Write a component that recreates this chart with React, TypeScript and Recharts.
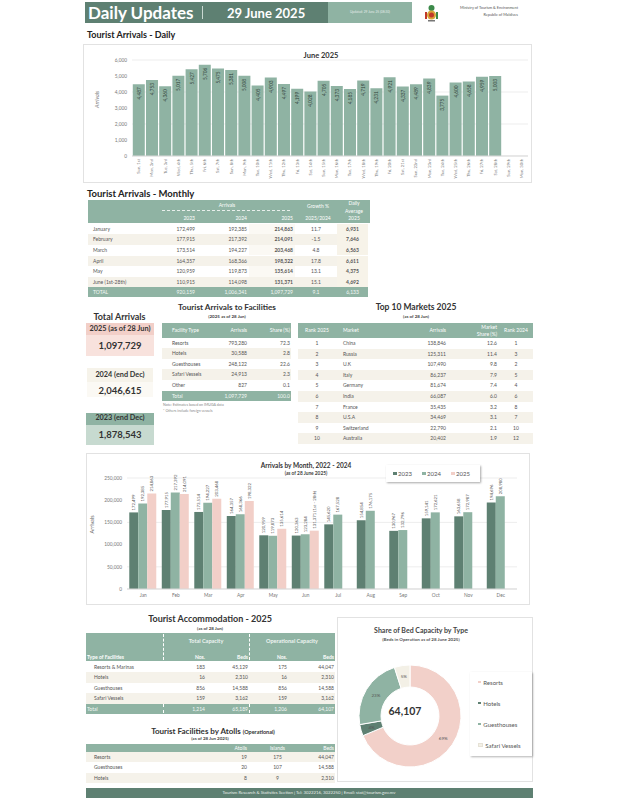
import React from 'react';
import { BarChart, Bar, XAxis, YAxis, CartesianGrid, LabelList, PieChart, Pie, Cell } from 'recharts';

const GREEN_D = '#5e8072';
const GREEN_M = '#8fb3a3';
const PINK = '#f2cfc8';
const BEIGE = '#f5f2ea';
const FONT = 'Lato, "Open Sans", sans-serif';

// daily arrivals, June 2025
const DAYS = [
  'Sun, 1st', 'Mon, 2nd', 'Tue, 3rd', 'Wed, 4th', 'Thu, 5th', 'Fri, 6th', 'Sat, 7th', 'Sun, 8th',
  'Mon, 9th', 'Tue, 10th', 'Wed, 11th', 'Thu, 12th', 'Fri, 13th', 'Sat, 14th', 'Sun, 15th',
  'Mon, 16th', 'Tue, 17th', 'Wed, 18th', 'Thu, 19th', 'Fri, 20th', 'Sat, 21st', 'Sun, 22nd',
  'Mon, 23rd', 'Tue, 24th', 'Wed, 25th', 'Thu, 26th', 'Fri, 27th', 'Sat, 28th', 'Sun, 29th', 'Mon, 30th',
];
const DAILY = [
  4487, 4753, 4360, 5017, 5427, 5706, 5475, 5381, 5008, 4405, 4903, 4497, 4199, 4028, 4705,
  4373, 4185, 4719, 4231, 4921, 4337, 4489, 4839, 3775, 4600, 4658, 4959, 5003, null, null,
];
const DAILY_TICKS = [0, 1000, 2000, 3000, 4000, 5000, 6000];

// arrivals by month
const MONTHS = ['Jan', 'Feb', 'Mar', 'Apr', 'May', 'Jun', 'Jul', 'Aug', 'Sep', 'Oct', 'Nov', 'Dec'];
const A2023 = [172499, 177915, 173514, 164357, 120959, 120363, 145620, 154854, 130967, 159141, 163658, 194696];
const A2024 = [192385, 217392, 194227, 168366, 119873, 123284, 167528, 176175, 132796, 172621, 172987, 208980];
const A2025 = [214863, 214091, 203468, 198322, 135614, 131371, null, null, null, null, null, null];
const MONTH_TICKS = [0, 50000, 100000, 150000, 200000, 250000];

// monthly table
const M_ROWS = ['January', 'February', 'March', 'April', 'May', 'June (1st-28th)'];
const M_2023 = ['172,499', '177,915', '173,514', '164,357', '120,959', '110,915'];
const M_2024 = ['192,385', '217,392', '194,227', '168,366', '119,873', '114,098'];
const M_2025 = ['214,863', '214,091', '203,468', '198,322', '135,614', '131,371'];
const M_GROWTH = ['11.7', '-1.5', '4.8', '17.8', '13.1', '15.1'];
const M_AVG = ['6,931', '7,646', '6,563', '6,611', '4,375', '4,692'];
const M_TOTAL = ['TOTAL', '920,159', '1,006,341', '1,097,729', '9.1', '6,133'];

// facilities
const FAC_TYPES = ['Resorts', 'Hotels', 'Guesthouses', 'Safari Vessels', 'Other'];
const FAC_ARR = ['793,280', '30,588', '248,122', '24,913', '827'];
const FAC_SHARE = ['72.3', '2.8', '22.6', '2.3', '0.1'];

// top 10 markets
const MKT_NAMES = ['China', 'Russia', 'U.K', 'Italy', 'Germany', 'India', 'France', 'U.S.A', 'Switzerland', 'Australia'];
const MKT_ARR = ['138,846', '125,311', '107,490', '86,237', '81,674', '66,087', '35,435', '34,469', '22,790', '20,402'];
const MKT_SHARE = ['12.6', '11.4', '9.8', '7.9', '7.4', '6.0', '3.2', '3.1', '2.1', '1.9'];
const MKT_RANK24 = ['1', '3', '2', '5', '4', '6', '8', '7', '10', '12'];

// accommodation
const ACC_TYPES = ['Resorts & Marinas', 'Hotels', 'Guesthouses', 'Safari Vessels'];
const ACC_NOS = ['183', '16', '856', '159'];
const ACC_BEDS = ['45,129', '2,310', '14,588', '3,162'];
const ACC_OPNOS = ['175', '16', '856', '159'];
const ACC_OPBEDS = ['44,047', '2,310', '14,588', '3,162'];

const ATOLL_TYPES = ['Resorts', 'Guesthouses', 'Hotels'];
const ATOLL_ATOLLS = ['19', '20', '8'];
const ATOLL_ISLANDS = ['175', '107', '9'];
const ATOLL_BEDS = ['44,047', '14,588', '2,310'];

// bed share pie
const BED_TYPES = ['Resorts', 'Hotels', 'Guesthouses', 'Safari Vessels'];
const BED_VALUES = [44047, 2310, 14588, 3162];
const BED_COLORS = ['#f2d0c9', GREEN_D, GREEN_M, '#f3f0e6'];

const dailyData = DAYS.map((d, i) => ({ day: d, value: DAILY[i] }));
const monthData = MONTHS.map((m, i) => ({ month: m, y2023: A2023[i], y2024: A2024[i], y2025: A2025[i] }));
const bedData = BED_TYPES.map((t, i) => ({ name: t, value: BED_VALUES[i] }));

const fmt = (v: number) => v.toLocaleString('en-US');

function T({ x, y, w = 200, align = 'left', size = 5, bold = false, color = '#444', children, style }: any) {
  const left = align === 'left' ? x : align === 'right' ? x - w : x - w / 2;
  return (
    <div
      style={{
        position: 'absolute', left, top: y - size, width: w, height: size * 2, lineHeight: size * 2 + 'px',
        textAlign: align, fontSize: size, fontWeight: bold ? 700 : 400, color, whiteSpace: 'nowrap', ...style,
      }}
    >
      {children}
    </div>
  );
}

function Row({ top, left, h, cols, cells, bg, color = '#555', size = 5, bold = false }: any) {
  return (
    <div style={{ position: 'absolute', top, left, height: h, display: 'flex', background: bg }}>
      {cols.map((c: any, i: number) => (
        <div
          key={i}
          style={{
            width: c.w, height: h, lineHeight: h + 'px', textAlign: c.a, paddingLeft: c.pl || 0,
            paddingRight: c.pr || 0, boxSizing: 'border-box', fontSize: size, color,
            fontWeight: bold || c.b ? 700 : 400, background: c.bg, whiteSpace: 'nowrap',
          }}
        >
          {cells[i]}
        </div>
      ))}
    </div>
  );
}

function Box({ x, y, w, h, bg, border, shadow }: any) {
  return (
    <div
      style={{
        position: 'absolute', left: x, top: y, width: w, height: h, background: bg,
        border, boxSizing: 'border-box', boxShadow: shadow,
      }}
    />
  );
}

const DayTick = ({ x, y, payload }: any) => (
  <text transform={`translate(${x},${y}) rotate(-90)`} textAnchor="end" dominantBaseline="central" fontSize={4.2} fill="#777">
    {payload.value}
  </text>
);

const InsideLabel = ({ x, y, width, value }: any) => {
  if (value == null) return null;
  return (
    <text transform={`translate(${x + width / 2},${y + 3}) rotate(-90)`} textAnchor="end" dominantBaseline="central" fontSize={4.8} fill="#2f3f38">
      {fmt(value)}
    </text>
  );
};

const TopLabel = (suffix?: string) => ({ x, y, width, value, index }: any) => {
  if (value == null) return null;
  const t = fmt(value) + (suffix && index === 5 ? suffix : '');
  return (
    <text transform={`translate(${x + width / 2},${y - 2}) rotate(-90)`} textAnchor="start" dominantBaseline="central" fontSize={4.3} fill="#555">
      {t}
    </text>
  );
};

const RAD = Math.PI / 180;
const pieLabel = ({ cx, cy, midAngle, innerRadius, outerRadius, percent }: any) => {
  const r = (innerRadius + outerRadius) / 2;
  const x = cx + r * Math.cos(-midAngle * RAD);
  const y = cy + r * Math.sin(-midAngle * RAD);
  return (
    <text x={x} y={y} fontSize={4.5} fill="#555" textAnchor="middle" dominantBaseline="central">
      {Math.round(percent * 100)}%
    </text>
  );
};

const mCols = [
  { w: 77, a: 'left', pl: 5 },
  { w: 32, a: 'right', pr: 2 },
  { w: 52, a: 'right', pr: 2 },
  { w: 46, a: 'right', pr: 2, b: true },
  { w: 42, a: 'center' },
  { w: 31, a: 'center', b: true },
];
const facCols = [
  { w: 53, a: 'left', pl: 10 },
  { w: 34, a: 'right', pr: 2 },
  { w: 42, a: 'right', pr: 1 },
];
const mktCols = [
  { w: 38, a: 'center' },
  { w: 64, a: 'left', pl: 7 },
  { w: 48, a: 'right', pr: 2 },
  { w: 51, a: 'right', pr: 2 },
  { w: 34, a: 'center' },
];
const accCols = [
  { w: 77, a: 'left', pl: 8 },
  { w: 44, a: 'right', pr: 2 },
  { w: 42, a: 'right', pr: 1 },
  { w: 40, a: 'right', pr: 2 },
  { w: 46, a: 'right', pr: 1 },
];
const atCols = [
  { w: 119, a: 'left', pl: 8 },
  { w: 44, a: 'right', pr: 2 },
  { w: 57, a: 'center' },
  { w: 29, a: 'right', pr: 1 },
];

export default function App() {
  return (
    <div style={{ position: 'absolute', left: 0, top: 0, width: 618, height: 800, background: '#fff', fontFamily: FONT, overflow: 'hidden' }}>
      {/* header */}
      <Box x={85} y={2} w={243} h={21} bg={GREEN_D} />
      <Box x={328} y={2} w={84} h={21} bg={GREEN_M} />
      <Box x={202} y={6} w={0.8} h={13} bg="#c9d8d1" />
      <T x={88} y={12.5} size={17} bold color="#fff">Daily Updates</T>
      <T x={227} y={12.5} size={13} bold color="#fff">29 June 2025</T>
      <T x={370} y={12.5} w={80} align="center" size={3.2} color="#e4ece8">Updated: 29 June 25 (08:30)</T>
      <svg style={{ position: 'absolute', left: 423, top: 3 }} width={17} height={20}>
        <circle cx={8.5} cy={5} r={3} fill="#3c8a4a" />
        <circle cx={8.5} cy={12} r={4.5} fill="#d7a63a" />
        <circle cx={8.5} cy={12} r={2.5} fill="#c0392b" />
        <rect x={2} y={9} width={2} height={7} fill="#c0392b" />
        <rect x={13} y={9} width={2} height={7} fill="#3c8a4a" />
        <rect x={5} y={17} width={7} height={1.5} fill="#777" />
      </svg>
      <T x={518} y={8} w={90} align="right" size={3.8} color="#555">Ministry of Tourism &amp; Environment</T>
      <T x={518} y={15} w={90} align="right" size={3.8} color="#555">Republic of Maldives</T>

      <T x={87} y={35} size={9} bold color="#222">Tourist Arrivals - Daily</T>

      {/* daily chart */}
      <Box x={83} y={44} w={449} h={139} border="1px solid #e2e2e2" />
      <T x={321} y={55} w={80} align="center" size={7.5} bold color="#333">June 2025</T>
      <div style={{ position: 'absolute', left: 83, top: 44 }}>
        <BarChart width={449} height={139} data={dailyData} margin={{ top: 16, right: 4, left: 0, bottom: 0 }} barCategoryGap="6%">
          <CartesianGrid vertical={false} stroke="#e8e8e8" strokeWidth={0.8} />
          <XAxis dataKey="day" interval={0} height={27} tick={<DayTick />} tickSize={0} tickMargin={3} tickLine={false} axisLine={{ stroke: '#d9d9d9' }} />
          <YAxis
            width={49}
            domain={[0, 6000]}
            ticks={DAILY_TICKS}
            tickFormatter={fmt}
            tick={{ fontSize: 4.8, fill: '#777' }}
            tickSize={0}
            tickMargin={5}
            axisLine={false}
            label={{ value: 'Arrivals', angle: -90, position: 'insideLeft', offset: 14, style: { fontSize: 5.5, fill: '#777', fontStyle: 'italic' } }}
          />
          <Bar dataKey="value" fill={GREEN_M} isAnimationActive={false}>
            <LabelList dataKey="value" content={<InsideLabel />} />
          </Bar>
        </BarChart>
      </div>

      {/* monthly table */}
      <T x={87} y={193} size={9.5} bold color="#222">Tourist Arrivals - Monthly</T>
      <Box x={88} y={200} w={282} h={22.5} bg={GREEN_M} />
      <T x={227} y={205} w={60} align="center" size={5} color="#fff">Arrivals</T>
      <div style={{ position: 'absolute', left: 162, top: 210, width: 128, borderTop: '0.8px dashed #e8efeb' }} />
      <T x={195} y={218} w={30} align="right" size={5} color="#fff">2023</T>
      <T x={247} y={218} w={30} align="right" size={5} color="#fff">2024</T>
      <T x={293} y={218} w={30} align="right" size={5} color="#fff">2025</T>
      <T x={318} y={206} w={40} align="center" size={5} color="#fff">Growth %</T>
      <T x={318} y={218} w={40} align="center" size={5} color="#fff">2025/2024</T>
      <T x={354} y={203} w={30} align="center" size={5} color="#fff">Daily</T>
      <T x={354} y={210.5} w={30} align="center" size={5} color="#fff">Average</T>
      <T x={354} y={218} w={30} align="center" size={5} color="#fff">2025</T>
      {M_ROWS.map((m, i) => (
        <Row
          key={m}
          top={223.7 + i * 10.6}
          left={88}
          h={10.6}
          bg={i % 2 === 1 ? BEIGE : '#fff'}
          cols={mCols.map((c, j) => (j === 5 ? { ...c, bg: '#f7f3e9' } : j === 3 && i % 2 === 0 ? { ...c, bg: '#fbf9f4' } : c))}
          cells={[m, M_2023[i], M_2024[i], M_2025[i], M_GROWTH[i], M_AVG[i]]}
          color="#555"
        />
      ))}
      <Row top={287.3} left={88} h={10} bg={GREEN_M} cols={mCols.map((c) => ({ ...c, b: false }))} cells={M_TOTAL} color="#f4f8f6" />

      {/* total arrivals */}
      <T x={119.5} y={317} w={80} align="center" size={9} bold color="#333">Total Arrivals</T>
      <Box x={86} y={323} w={68} h={11.5} bg={PINK} />
      <Box x={86} y={334.5} w={68} h={21} bg="#f8e2dd" />
      <T x={120} y={329} w={80} align="center" size={7.3} bold color="#333">2025 (as of 28 Jun)</T>
      <T x={120} y={345} w={80} align="center" size={9.5} bold color="#333">1,097,729</T>
      <Box x={87} y={368} w={66} h={13.5} bg="#f6f3ea" />
      <Box x={87} y={381.5} w={66} h={15} bg="#fbf9f4" />
      <T x={120} y={375} w={80} align="center" size={7.3} bold color="#333">2024 (end Dec)</T>
      <T x={120} y={390} w={80} align="center" size={9.5} bold color="#333">2,046,615</T>
      <Box x={86} y={413} w={68} h={11.5} bg={GREEN_M} />
      <Box x={86} y={424.5} w={68} h={20} bg="#c7dad0" />
      <T x={120} y={418.5} w={80} align="center" size={7.3} bold color="#333">2023 (end Dec)</T>
      <T x={120} y={434.5} w={80} align="center" size={9.5} bold color="#333">1,878,543</T>

      {/* facilities */}
      <T x={227} y={307.5} w={130} align="center" size={8.2} bold color="#333">Tourist Arrivals to Facilities</T>
      <T x={227} y={316} w={80} align="center" size={4.5} bold color="#444">(2025 as of 28 Jun)</T>
      <Row top={323} left={162} h={14.5} bg={GREEN_M} cols={facCols} cells={['Facility Type', 'Arrivals', 'Share (%)']} color="#fff" />
      {FAC_TYPES.map((t, i) => (
        <Row key={t} top={337.5 + i * 10.6} left={162} h={10.6} bg={i % 2 === 1 ? BEIGE : '#fff'} cols={facCols} cells={[t, FAC_ARR[i], FAC_SHARE[i]]} />
      ))}
      <Row top={390.5} left={162} h={10} bg={GREEN_M} cols={facCols} cells={['Total', '1,097,729', '100.0']} color="#f4f8f6" />
      <T x={163} y={404.5} size={3.6} color="#888">Note: Estimates based on IMUGA data</T>
      <T x={163} y={411} size={3.6} color="#888">* Others include foreign vessels</T>

      {/* top 10 */}
      <T x={416} y={307.5} w={130} align="center" size={8.5} bold color="#333">Top 10 Markets 2025</T>
      <T x={416} y={316} w={80} align="center" size={4.5} bold color="#444">(as of 28 Jun)</T>
      <Row top={323} left={298} h={15} bg={GREEN_M} cols={mktCols} cells={['Rank 2025', 'Market', 'Arrivals', '', 'Rank 2024']} color="#fff" />
      <T x={497} y={327} w={40} align="right" size={5} color="#fff">Market</T>
      <T x={497} y={334} w={40} align="right" size={5} color="#fff">Share (%)</T>
      {MKT_NAMES.map((m, i) => (
        <Row
          key={m}
          top={338 + i * 10.6}
          left={298}
          h={10.6}
          bg={i % 2 === 1 ? BEIGE : '#fff'}
          cols={mktCols}
          cells={[String(i + 1), m, MKT_ARR[i], MKT_SHARE[i], MKT_RANK24[i]]}
        />
      ))}

      {/* arrivals by month chart */}
      <Box x={86} y={453} w={444} h={152} border="1px solid #e2e2e2" />
      <T x={306} y={465} w={150} align="center" size={6.5} bold color="#333">Arrivals by Month, 2022 - 2024</T>
      <T x={306} y={474} w={100} align="center" size={4.8} bold color="#444">(as of 28 June 2025)</T>
      <div style={{ position: 'absolute', left: 86, top: 453 }}>
        <BarChart width={444} height={152} data={monthData} margin={{ top: 25, right: 13, left: 0, bottom: 0 }} barCategoryGap="7%" barGap={0}>
          <CartesianGrid vertical={false} stroke="#e8e8e8" strokeWidth={0.8} />
          <XAxis dataKey="month" interval={0} height={16} tick={{ fontSize: 4.8, fill: '#777' }} tickSize={0} tickMargin={5} tickLine={false} axisLine={{ stroke: '#d9d9d9' }} />
          <YAxis
            width={41}
            domain={[0, 250000]}
            ticks={MONTH_TICKS}
            tickFormatter={fmt}
            tick={{ fontSize: 4.8, fill: '#777' }}
            tickSize={0}
            tickMargin={5}
            axisLine={false}
            label={{ value: 'Arrivals', angle: -90, position: 'insideLeft', offset: 6, style: { fontSize: 5.5, fill: '#555' } }}
          />
          <Bar dataKey="y2023" fill={GREEN_D} isAnimationActive={false}>
            <LabelList dataKey="y2023" content={TopLabel()} />
          </Bar>
          <Bar dataKey="y2024" fill={GREEN_M} isAnimationActive={false}>
            <LabelList dataKey="y2024" content={TopLabel()} />
          </Bar>
          <Bar dataKey="y2025" fill={PINK} isAnimationActive={false}>
            <LabelList dataKey="y2025" content={TopLabel(' (1st - 28th)')} />
          </Bar>
        </BarChart>
      </div>
      <Box x={386} y={465} w={94} h={17} bg="#fff" shadow="1px 1px 2px rgba(0,0,0,0.35)" />
      {['2023', '2024', '2025'].map((y, i) => (
        <div key={y} style={{ position: 'absolute', left: 393 + i * 29, top: 469, display: 'flex', alignItems: 'center', height: 9 }}>
          <div style={{ width: 3.5, height: 3.5, background: [GREEN_D, GREEN_M, PINK][i], marginRight: 1.5 }} />
          <span style={{ fontSize: 6, color: '#555' }}>{y}</span>
        </div>
      ))}

      {/* accommodation */}
      <T x={210} y={619} w={160} align="center" size={9} bold color="#333">Tourist Accommodation - 2025</T>
      <T x={210} y={628.5} w={80} align="center" size={4.5} bold color="#444">(as of 28 Jun)</T>
      <Box x={86} y={633} w={249} h={28} bg={GREEN_M} />
      <T x={206} y={641} w={80} align="center" size={5.5} bold color="#eef4f1">Total Capacity</T>
      <T x={292} y={641} w={80} align="center" size={5.5} bold color="#eef4f1">Operational Capacity</T>
      <Row top={653} left={86} h={8} cols={accCols.map((c, j) => (j === 0 ? { ...c, pl: 1 } : c))} cells={['Type of Facilities', 'Nos.', 'Beds', 'Nos.', 'Beds']} color="#fff" bold />
      {ACC_TYPES.map((t, i) => (
        <Row
          key={t}
          top={662 + i * 10.4}
          left={86}
          h={10.4}
          bg={i % 2 === 1 ? BEIGE : '#fff'}
          cols={accCols}
          cells={[t, ACC_NOS[i], ACC_BEDS[i], ACC_OPNOS[i], ACC_OPBEDS[i]]}
        />
      ))}
      <Row top={703.6} left={86} h={10} bg={GREEN_M} cols={accCols.map((c, j) => (j === 0 ? { ...c, pl: 1 } : c))} cells={['Total', '1,214', '65,189', '1,206', '64,107']} color="#f4f8f6" />
      {[163, 249].map((x) => (
        <React.Fragment key={x}>
          <div style={{ position: 'absolute', left: x, top: 634, height: 26, borderLeft: '0.8px dashed #fff' }} />
          <div style={{ position: 'absolute', left: x, top: 704, height: 9, borderLeft: '0.8px dashed #fff' }} />
        </React.Fragment>
      ))}

      <div style={{ position: 'absolute', left: 143, top: 723, width: 140, textAlign: 'center', whiteSpace: 'nowrap', color: '#333', lineHeight: '10px' }}>
        <span style={{ fontSize: 8, fontWeight: 700 }}>Tourist Facilities by Atolls </span>
        <span style={{ fontSize: 5.5, fontWeight: 700 }}>(Operational)</span>
      </div>
      <T x={210} y={738} w={80} align="center" size={4.5} bold color="#444">(as of 28 Jun 2025)</T>
      <Row top={743.5} left={86} h={8.5} bg={GREEN_M} cols={atCols} cells={['', 'Atolls', 'Islands', 'Beds']} color="#fff" />
      {ATOLL_TYPES.map((t, i) => (
        <Row
          key={t}
          top={752 + i * 10.4}
          left={86}
          h={10.4}
          bg={i % 2 === 0 ? BEIGE : '#fff'}
          cols={atCols}
          cells={[t, ATOLL_ATOLLS[i], ATOLL_ISLANDS[i], ATOLL_BEDS[i]]}
        />
      ))}

      {/* bed share pie */}
      <Box x={337} y={617} w={196} h={165} border="1px solid #e2e2e2" />
      <T x={421} y={630} w={140} align="center" size={7} bold color="#444">Share of Bed Capacity by Type</T>
      <T x={421} y={639} w={140} align="center" size={4.5} bold color="#555">(Beds in Operation as of 28 June 2025)</T>
      <div style={{ position: 'absolute', left: 337, top: 617 }}>
        <PieChart width={130} height={165}>
          <Pie
            data={bedData}
            dataKey="value"
            cx={68}
            cy={94}
            innerRadius={29}
            outerRadius={51}
            startAngle={90}
            endAngle={-270}
            stroke="#fff"
            strokeWidth={1}
            label={pieLabel}
            labelLine={false}
            isAnimationActive={false}
          >
            {bedData.map((d, i) => (
              <Cell key={d.name} fill={BED_COLORS[i]} />
            ))}
          </Pie>
        </PieChart>
      </div>
      <T x={405} y={711} w={60} align="center" size={10.5} bold color="#333">64,107</T>
      <Box x={470} y={672} w={62} h={84} bg="#fff" shadow="1px 1px 2px rgba(0,0,0,0.3)" />
      {BED_TYPES.map((t, i) => (
        <div key={t} style={{ position: 'absolute', left: 478, top: 677 + i * 21, display: 'flex', alignItems: 'center', height: 10 }}>
          <div style={{ width: 2.8, height: 2.8, background: BED_COLORS[i], marginRight: 2.5, border: i === 3 ? '0.3px solid #e6e2d6' : 'none' }} />
          <span style={{ fontSize: 6, color: '#555' }}>{t}</span>
        </div>
      ))}

      {/* footer */}
      <Box x={86} y={788} w={447} h={10} bg={GREEN_D} />
      <T x={309} y={793} w={300} align="center" size={4.3} color="#e8efeb">
        Tourism Research &amp; Statistics Section | Tel: 3022216, 3022250 | Email: stat@tourism.gov.mv
      </T>
    </div>
  );
}
